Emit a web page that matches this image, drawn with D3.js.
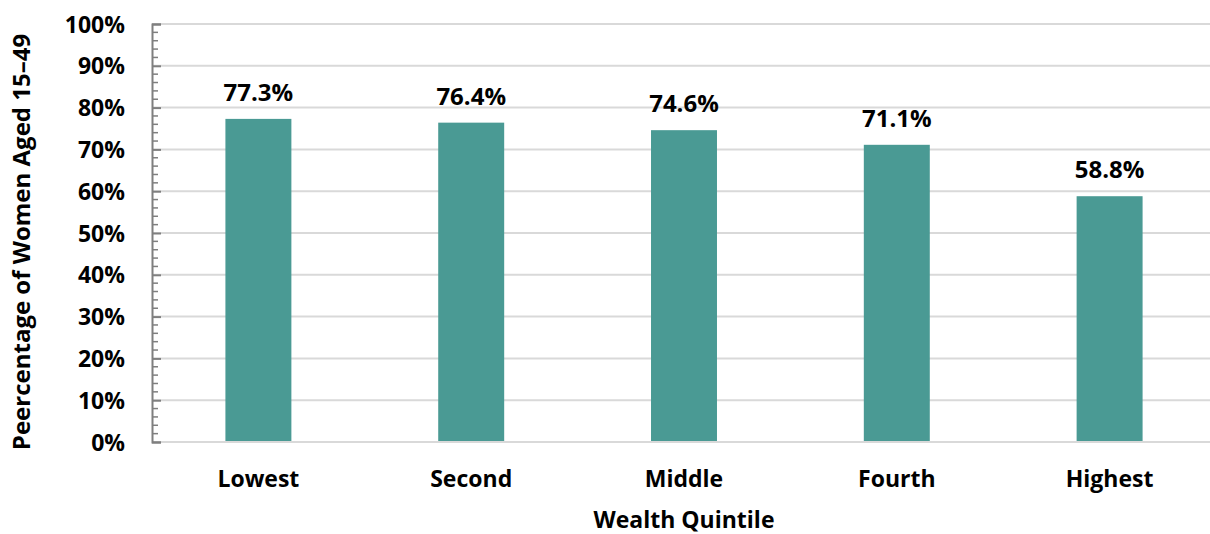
<!DOCTYPE html>
<html>
<head>
<meta charset="utf-8">
<script src="https://cdn.jsdelivr.net/npm/d3@7"></script>
<style>
  html, body { margin: 0; padding: 0; background: #fff; }
  svg text { font-family: "Open Sans", "Noto Sans", sans-serif; font-weight: 700; fill: #000; }
</style>
</head>
<body>
<svg id="chart" width="1210" height="534"></svg>
<script>
// Wealth quintile categories and share of women (percent)
const categories = ["Lowest", "Second", "Middle", "Fourth", "Highest"];
const values = [77.3, 76.4, 74.6, 71.1, 58.8];
const yTicks = [0, 10, 20, 30, 40, 50, 60, 70, 80, 90, 100];

const svg = d3.select("#chart");
const margin = { left: 152, right: -6, top: 24, bottom: 92 };
const W = 1210, H = 534;

const x = d3.scaleBand()
  .domain(categories)
  .range([margin.left, W - margin.right])
  .paddingInner(0.69)
  .paddingOuter(0.345);

const y = d3.scaleLinear().domain([0, 100]).range([H - margin.bottom, margin.top]);

// horizontal gridlines
svg.append("g").selectAll("line").data(yTicks.slice(1)).join("line")
  .attr("x1", margin.left).attr("x2", W - margin.right)
  .attr("y1", d => y(d)).attr("y2", d => y(d))
  .attr("stroke", "#d9d9d9").attr("stroke-width", 2);

// bars
svg.append("g").selectAll("rect").data(values).join("rect")
  .attr("x", (d, i) => x(categories[i]))
  .attr("width", x.bandwidth())
  .attr("y", d => y(d))
  .attr("height", d => y(0) - y(d))
  .attr("fill", "#4a9a94");

// baseline
svg.append("line")
  .attr("x1", margin.left).attr("x2", W - margin.right)
  .attr("y1", y(0)).attr("y2", y(0))
  .attr("stroke", "#d9d9d9").attr("stroke-width", 2);

// minor ticks every 2%
const minor = d3.range(0, 101, 2).filter(v => v % 10 !== 0);
svg.append("g").selectAll("line").data(minor).join("line")
  .attr("x1", margin.left).attr("x2", margin.left + 6)
  .attr("y1", d => y(d)).attr("y2", d => y(d))
  .attr("stroke", "#7f7f7f").attr("stroke-width", 1.5);

// y axis with major ticks pointing inward
const yAxis = d3.axisRight(y).tickValues(yTicks).tickSize(9).tickFormat("");
const ya = svg.append("g").attr("transform", `translate(${margin.left},0)`).call(yAxis);
ya.select(".domain").attr("stroke", "#7f7f7f").attr("stroke-width", 2);
ya.selectAll(".tick line").attr("stroke", "#7f7f7f").attr("stroke-width", 2);

// y tick labels
svg.append("g").selectAll("text").data(yTicks).join("text")
  .attr("x", 125).attr("y", d => y(d) + 8.5)
  .attr("text-anchor", "end")
  .style("font-size", "23px")
  .text(d => d + "%");

// value labels
svg.append("g").selectAll("text").data(values).join("text")
  .attr("x", (d, i) => x(categories[i]) + x.bandwidth() / 2)
  .attr("y", d => y(d) - 18)
  .attr("text-anchor", "middle")
  .style("font-size", "24px")
  .text(d => d.toFixed(1) + "%");

// category labels
svg.append("g").selectAll("text").data(categories).join("text")
  .attr("x", d => x(d) + x.bandwidth() / 2)
  .attr("y", 487)
  .attr("text-anchor", "middle")
  .style("font-size", "23px")
  .text(d => d);

// axis titles
svg.append("text")
  .attr("x", (margin.left + W - margin.right) / 2).attr("y", 528)
  .attr("text-anchor", "middle")
  .style("font-size", "23px")
  .text("Wealth Quintile");

svg.append("text")
  .attr("transform", "translate(30,242) rotate(-90)")
  .attr("text-anchor", "middle")
  .style("font-size", "24px")
  .text("Peercentage of Women Aged 15\u201349");
</script>
</body>
</html>
